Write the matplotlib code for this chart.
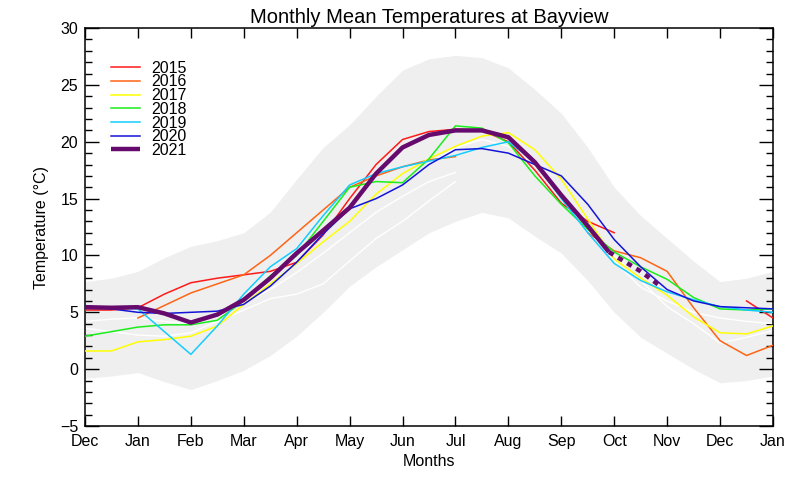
import numpy as np
import matplotlib
matplotlib.use("Agg")
import matplotlib.pyplot as plt
from matplotlib.ticker import MultipleLocator

plt.rcParams['font.family'] = ['Liberation Sans', 'DejaVu Sans']

nan = np.nan

# month axis: 0 = Dec (previous year) ... 13 = Jan (next year), read every half month
month_labels = ['Dec', 'Jan', 'Feb', 'Mar', 'Apr', 'May', 'Jun',
                'Jul', 'Aug', 'Sep', 'Oct', 'Nov', 'Dec', 'Jan']
x_half = np.arange(0, 13.01, 0.5)

# grey envelope (range of all years)
band_hi = [7.7, 8.0, 8.6, 9.8, 10.8, 11.3, 12.0, 13.8, 16.7, 19.5, 21.5, 24.0, 26.3, 27.3,
           27.6, 27.4, 26.5, 24.6, 22.5, 19.5, 16.0, 13.5, 11.5, 9.5, 7.7, 8.0, 8.6]
band_lo = [-0.8, -0.6, -0.3, -1.1, -1.8, -1.0, -0.1, 1.2, 2.9, 5.0, 7.3, 9.0, 10.5, 12.0,
           13.0, 13.8, 13.3, 11.7, 10.2, 7.8, 5.0, 2.8, 1.4, 0.0, -1.2, -1.0, -0.6]

# older years (white)
old_1 = [4.2, 4.4, 4.5, 4.2, 4.0, 4.6, 5.8, 7.0, 8.5, 10.2, 12.0, 13.8, 15.2, 16.5,
         17.3, nan, nan, nan, nan, nan, nan, nan, nan, nan, nan, nan, nan]
old_2 = [3.6, 3.3, 3.0, 2.9, 3.2, 4.2, 5.2, 6.2, 6.6, 7.5, 9.5, 11.5, 13.0, 14.8,
         16.5, nan, nan, nan, nan, nan, nan, nan, nan, nan, nan, nan, nan]
old_3 = [nan, nan, nan, nan, nan, nan, nan, nan, nan, nan, nan, nan, nan, 18.0,
         19.5, 20.2, 19.6, 18.0, 15.5, 12.5, 9.5, 7.2, 6.0, 5.0, 4.5, 4.2, 4.0]
old_4 = [nan, nan, nan, nan, nan, nan, nan, nan, nan, nan, nan, nan, nan, nan,
         nan, nan, nan, nan, nan, 12.0, 10.0, 7.8, 5.5, 4.0, 2.3, 2.8, 3.4]

y2015 = [5.2, 5.2, 5.4, 6.6, 7.6, 8.0, 8.3, 8.6, 9.4, 11.8, 15.0, 18.0, 20.2, 20.9,
         21.1, 21.0, 20.0, 17.5, 14.6, 13.0, 12.0, nan, nan, nan, nan, 6.0, 4.5]
y2016 = [nan, nan, 4.5, 5.6, 6.7, 7.5, 8.3, 10.0, 12.0, 14.0, 16.0, 17.0, 17.8, 18.4,
         18.7, nan, nan, nan, nan, 12.0, 10.4, 9.8, 8.6, 5.4, 2.5, 1.2, 2.1]
y2017 = [1.6, 1.6, 2.4, 2.6, 2.9, 3.8, 5.7, 7.5, 9.3, 11.2, 13.0, 15.4, 17.2, 18.5,
         19.6, 20.5, 20.8, 19.3, 16.7, 13.2, 9.7, 8.0, 6.5, 4.6, 3.2, 3.1, 3.8]
y2018 = [2.9, 3.3, 3.7, 3.9, 3.9, 4.3, 6.0, 8.2, 10.0, 13.0, 16.0, 16.5, 16.4, 18.5,
         21.4, 21.2, 19.9, 17.0, 14.5, 12.3, 10.3, 9.0, 7.9, 6.3, 5.3, 5.2, 5.3]
y2019 = [5.4, 5.4, 5.3, 3.3, 1.3, 3.8, 6.6, 9.0, 10.6, 13.5, 16.2, 17.2, 17.8, 18.3,
         18.8, 19.5, 20.0, 18.2, 15.0, 12.0, 9.3, 7.8, 6.8, 6.1, 5.5, 5.2, 5.0]
y2020 = [5.6, 5.3, 5.0, 4.9, 5.0, 5.1, 5.7, 7.3, 9.4, 11.9, 14.1, 15.0, 16.2, 18.0,
         19.3, 19.4, 19.0, 18.0, 17.0, 14.5, 11.4, 9.0, 7.0, 6.0, 5.5, 5.4, 5.3]

# current year: observed part and dashed tail
x2021 = [0, 0.5, 1, 1.5, 2, 2.5, 3, 3.5, 4, 4.5, 5, 5.5, 6, 6.5, 7, 7.5, 8, 8.5, 9, 9.5, 9.9]
y2021 = [5.45, 5.4, 5.45, 4.9, 4.1, 4.8, 6.1, 8.0, 10.2, 12.2, 14.2, 17.2, 19.5, 20.6,
         21.0, 21.0, 20.4, 18.2, 15.3, 12.6, 10.3]
x2021_tail = [9.9, 10.5, 10.9]
y2021_tail = [10.3, 8.6, 7.2]

years = ['2015', '2016', '2017', '2018', '2019', '2020']
year_data = [y2015, y2016, y2017, y2018, y2019, y2020]
year_colors = ['#ff1a1a', '#ff6414', '#ffff00', '#1aee1a', '#14ccff', '#1414d8']

fig = plt.figure(figsize=(8, 4.8), dpi=100)
ax = fig.add_axes([0.10625, 0.1125, 0.86, 0.829])

ax.fill_between(x_half, band_lo, band_hi, color='#efefef', lw=0, zorder=1)
for w in [old_1, old_2, old_3, old_4]:
    ax.plot(x_half, w, color='white', lw=1.0, zorder=2)

for name, vals, col in zip(years, year_data, year_colors):
    ax.plot(x_half, vals, color=col, lw=1.1, label=name, zorder=3)

ax.plot(x2021, y2021, color='#660a6e', lw=3.2, label='2021', zorder=4,
        solid_capstyle='butt')
ax.plot(x2021_tail, y2021_tail, color='#660a6e', lw=3.2, ls=(0, (1.2, 1.2)), zorder=4)

ax.set_xlim(0, 13)
ax.set_ylim(-5, 30)
ax.set_xticks(np.arange(14))
ax.set_xticklabels(month_labels)
ax.yaxis.set_major_locator(MultipleLocator(5))
ax.yaxis.set_minor_locator(MultipleLocator(1))
ax.tick_params(axis='y', which='major', direction='in', length=10, width=1.0,
               left=True, right=True, labelsize=11.5, pad=5)
ax.tick_params(axis='y', which='minor', direction='in', length=5, width=1.0,
               left=True, right=True)
ax.tick_params(axis='x', which='major', direction='in', length=7, width=1.0,
               top=True, bottom=True, labelsize=11.5, pad=6)
for s in ax.spines.values():
    s.set_linewidth(1.1)

ax.set_title('Monthly Mean Temperatures at Bayview', fontsize=14.5, pad=4)
ax.set_xlabel('Months', fontsize=11.5, labelpad=3)
ax.set_ylabel('Temperature (\u00b0C)', fontsize=11.5, labelpad=8)

ax.legend(loc='upper left', bbox_to_anchor=(0.038, 0.918), frameon=False,
          fontsize=11.5, handlelength=1.8, handletextpad=0.7, labelspacing=-0.08,
          borderpad=0, borderaxespad=0)

fig.savefig('out.png', dpi=100)
